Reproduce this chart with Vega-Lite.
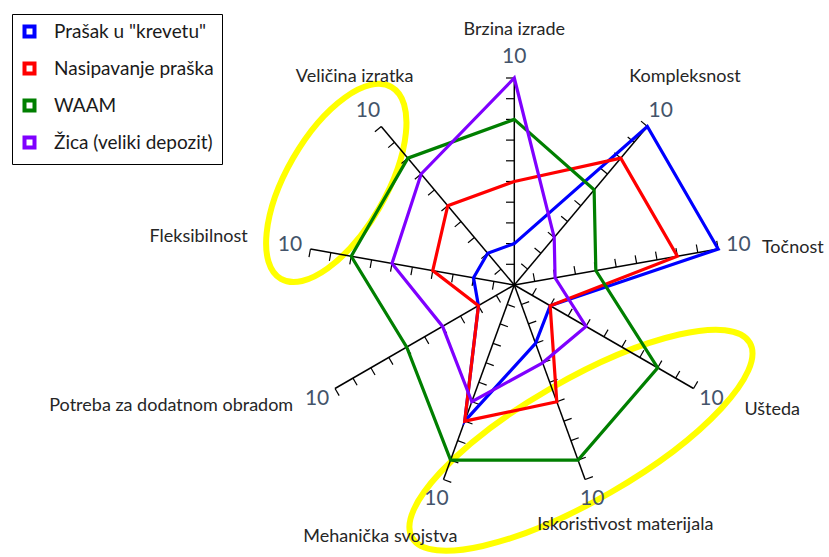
{
  "$schema": "https://vega.github.io/schema/vega-lite/v6.json",
  "width": 829,
  "height": 557,
  "autosize": {"type": "none"},
  "padding": 0,
  "background": "#ffffff",
  "config": {"view": {"stroke": null}, "font": "Lato"},
  "datasets": {
    "axes": [
      {"k": 0, "name": "Brzina izrade", "ticks": [1,2,3,4,5,6,7,8,9,10]},
      {"k": 1, "name": "Kompleksnost", "ticks": [1,2,3,4,5,6,7,8,9,10]},
      {"k": 2, "name": "Točnost", "ticks": [1,2,3,4,5,6,7,8,9,10]},
      {"k": 3, "name": "Ušteda", "ticks": [1,2,3,4,5,6,7,8,9,10]},
      {"k": 4, "name": "Iskoristivost materijala", "ticks": [1,2,3,4,5,6,7,8,9,10]},
      {"k": 5, "name": "Mehanička svojstva", "ticks": [1,2,3,4,5,6,7,8,9,10]},
      {"k": 6, "name": "Potreba za dodatnom obradom", "ticks": [1,2,3,4,5,6,7,8,9,10]},
      {"k": 7, "name": "Fleksibilnost", "ticks": [1,2,3,4,5,6,7,8,9,10]},
      {"k": 8, "name": "Veličina izratka", "ticks": [1,2,3,4,5,6,7,8,9,10]}
    ],
    "scores": [
      {"series": "Prašak u \"krevetu\"", "k": 0, "value": 2},
      {"series": "Prašak u \"krevetu\"", "k": 1, "value": 10},
      {"series": "Prašak u \"krevetu\"", "k": 2, "value": 10},
      {"series": "Prašak u \"krevetu\"", "k": 3, "value": 2},
      {"series": "Prašak u \"krevetu\"", "k": 4, "value": 3},
      {"series": "Prašak u \"krevetu\"", "k": 5, "value": 7},
      {"series": "Prašak u \"krevetu\"", "k": 6, "value": 2},
      {"series": "Prašak u \"krevetu\"", "k": 7, "value": 2},
      {"series": "Prašak u \"krevetu\"", "k": 8, "value": 2},
      {"series": "Nasipavanje praška", "k": 0, "value": 5},
      {"series": "Nasipavanje praška", "k": 1, "value": 8},
      {"series": "Nasipavanje praška", "k": 2, "value": 8},
      {"series": "Nasipavanje praška", "k": 3, "value": 2},
      {"series": "Nasipavanje praška", "k": 4, "value": 6},
      {"series": "Nasipavanje praška", "k": 5, "value": 7},
      {"series": "Nasipavanje praška", "k": 6, "value": 2},
      {"series": "Nasipavanje praška", "k": 7, "value": 4},
      {"series": "Nasipavanje praška", "k": 8, "value": 5},
      {"series": "WAAM", "k": 0, "value": 8},
      {"series": "WAAM", "k": 1, "value": 6},
      {"series": "WAAM", "k": 2, "value": 4},
      {"series": "WAAM", "k": 3, "value": 8},
      {"series": "WAAM", "k": 4, "value": 9},
      {"series": "WAAM", "k": 5, "value": 9},
      {"series": "WAAM", "k": 6, "value": 6},
      {"series": "WAAM", "k": 7, "value": 8},
      {"series": "WAAM", "k": 8, "value": 8},
      {"series": "Žica (veliki depozit)", "k": 0, "value": 10},
      {"series": "Žica (veliki depozit)", "k": 1, "value": 3},
      {"series": "Žica (veliki depozit)", "k": 2, "value": 2},
      {"series": "Žica (veliki depozit)", "k": 3, "value": 4},
      {"series": "Žica (veliki depozit)", "k": 4, "value": 4},
      {"series": "Žica (veliki depozit)", "k": 5, "value": 6},
      {"series": "Žica (veliki depozit)", "k": 6, "value": 4},
      {"series": "Žica (veliki depozit)", "k": 7, "value": 6},
      {"series": "Žica (veliki depozit)", "k": 8, "value": 7}
    ],
    "highlights": [
      {"region": "A", "cx": -8.6, "cy": 4.93},
      {"region": "B", "cx": 3.22, "cy": -7.5}
    ]
  },
  "layer": [
    {
      "data": {"name": "highlights"},
      "transform": [{"filter": "datum.region === 'A'"}],
      "mark": {"type": "point", "shape": "M 1 0 C 1 0.249 0.552 0.45 0 0.45 C -0.552 0.45 -1 0.249 -1 0 C -1 -0.249 -0.552 -0.45 0 -0.45 C 0.552 -0.45 1 -0.249 1 0 Z", "size": 49000, "angle": 300, "filled": false, "stroke": "#FFFF00", "strokeWidth": 6, "opacity": 1},
      "encoding": {
        "x": {"field": "cx", "type": "quantitative", "scale": {"domain": [-24.845, 15.203], "nice": false, "zero": false}, "axis": null},
        "y": {"field": "cy", "type": "quantitative", "scale": {"domain": [-13.14, 13.768], "nice": false, "zero": false}, "axis": null}
      }
    },
    {
      "data": {"name": "highlights"},
      "transform": [{"filter": "datum.region === 'B'"}],
      "mark": {"type": "point", "shape": "M 1 0 C 1 0.17 0.552 0.308 0 0.308 C -0.552 0.308 -1 0.17 -1 0 C -1 -0.17 -0.552 -0.308 0 -0.308 C 0.552 -0.308 1 -0.17 1 0 Z", "size": 152100, "angle": 330, "filled": false, "stroke": "#FFFF00", "strokeWidth": 6, "opacity": 1},
      "encoding": {
        "x": {"field": "cx", "type": "quantitative"},
        "y": {"field": "cy", "type": "quantitative"}
      }
    },
    {
      "data": {"name": "axes"},
      "transform": [
        {"calculate": "PI/2 - datum.k*2*PI/9", "as": "th"},
        {"calculate": "0", "as": "ox"},
        {"calculate": "10*cos(datum.th)", "as": "ex"},
        {"calculate": "10*sin(datum.th)", "as": "ey"}
      ],
      "mark": {"type": "rule", "color": "#000000", "strokeWidth": 1.5},
      "encoding": {
        "x": {"field": "ox", "type": "quantitative"},
        "y": {"field": "ox", "type": "quantitative"},
        "x2": {"field": "ex"},
        "y2": {"field": "ey"}
      }
    },
    {
      "data": {"name": "axes"},
      "transform": [
        {"flatten": ["ticks"]},
        {"calculate": "PI/2 - datum.k*2*PI/9", "as": "th"},
        {"calculate": "datum.ticks*cos(datum.th)", "as": "tx"},
        {"calculate": "datum.ticks*sin(datum.th)", "as": "ty"},
        {"calculate": "datum.tx - 0.4*sin(datum.th)", "as": "tx2"},
        {"calculate": "datum.ty + 0.4*cos(datum.th)", "as": "ty2"}
      ],
      "mark": {"type": "rule", "color": "#000000", "strokeWidth": 1.2},
      "encoding": {
        "x": {"field": "tx", "type": "quantitative"},
        "y": {"field": "ty", "type": "quantitative"},
        "x2": {"field": "tx2"},
        "y2": {"field": "ty2"}
      }
    },
    {
      "data": {"name": "scores"},
      "transform": [
        {"calculate": "PI/2 - datum.k*2*PI/9", "as": "th"},
        {"calculate": "datum.value*cos(datum.th)", "as": "px"},
        {"calculate": "datum.value*sin(datum.th)", "as": "py"}
      ],
      "mark": {"type": "line", "interpolate": "linear-closed", "strokeWidth": 3.2, "strokeJoin": "miter"},
      "encoding": {
        "x": {"field": "px", "type": "quantitative"},
        "y": {"field": "py", "type": "quantitative"},
        "order": {"field": "k", "type": "quantitative"},
        "color": {
          "field": "series",
          "type": "nominal",
          "scale": {
            "domain": ["Prašak u \"krevetu\"", "Nasipavanje praška", "WAAM", "Žica (veliki depozit)"],
            "range": ["#0000FF", "#FF0000", "#007F00", "#7F00FF"]
          },
          "legend": {
            "title": null,
            "orient": "none",
            "legendX": 12,
            "legendY": 14,
            "padding": 8,
            "rowPadding": 10,
            "strokeColor": "#000000",
            "fillColor": "#ffffff",
            "symbolType": "square",
            "symbolSize": 100,
            "symbolStrokeWidth": 4,
            "symbolFillColor": "#ffffff",
            "labelFont": "Lato",
            "labelFontSize": 19,
            "labelColor": "#1a1a1a",
            "labelOffset": 15,
            "labelLimit": 400
          }
        }
      }
    },
    {
      "data": {"name": "axes"},
      "transform": [
        {"calculate": "PI/2 - datum.k*2*PI/9", "as": "th"},
        {"calculate": "11*cos(datum.th)", "as": "lx"},
        {"calculate": "11*sin(datum.th)", "as": "ly"}
      ],
      "mark": {"type": "text", "text": "10", "fontSize": 21, "color": "#44546A", "align": "center", "baseline": "middle"},
      "encoding": {
        "x": {"field": "lx", "type": "quantitative"},
        "y": {"field": "ly", "type": "quantitative"}
      }
    },
    {
      "data": {"name": "axes"},
      "transform": [{"filter": "datum.k === 0"}, {"calculate": "PI/2 - datum.k*2*PI/9", "as": "th"}, {"calculate": "12*cos(datum.th)", "as": "lx"}, {"calculate": "12*sin(datum.th)", "as": "ly"}],
      "mark": {"type": "text", "fontSize": 18, "color": "#262626", "align": "center", "baseline": "middle", "dx": 0, "dy": -7},
      "encoding": {"x": {"field": "lx", "type": "quantitative"}, "y": {"field": "ly", "type": "quantitative"}, "text": {"field": "name"}}
    },
    {
      "data": {"name": "axes"},
      "transform": [{"filter": "datum.k === 1"}, {"calculate": "PI/2 - datum.k*2*PI/9", "as": "th"}, {"calculate": "12*cos(datum.th)", "as": "lx"}, {"calculate": "12*sin(datum.th)", "as": "ly"}],
      "mark": {"type": "text", "fontSize": 18, "color": "#262626", "align": "center", "baseline": "middle", "dx": 11, "dy": -18},
      "encoding": {"x": {"field": "lx", "type": "quantitative"}, "y": {"field": "ly", "type": "quantitative"}, "text": {"field": "name"}}
    },
    {
      "data": {"name": "axes"},
      "transform": [{"filter": "datum.k === 2"}, {"calculate": "PI/2 - datum.k*2*PI/9", "as": "th"}, {"calculate": "12*cos(datum.th)", "as": "lx"}, {"calculate": "12*sin(datum.th)", "as": "ly"}],
      "mark": {"type": "text", "fontSize": 18, "color": "#262626", "align": "left", "baseline": "middle", "dx": 3, "dy": 6},
      "encoding": {"x": {"field": "lx", "type": "quantitative"}, "y": {"field": "ly", "type": "quantitative"}, "text": {"field": "name"}}
    },
    {
      "data": {"name": "axes"},
      "transform": [{"filter": "datum.k === 3"}, {"calculate": "PI/2 - datum.k*2*PI/9", "as": "th"}, {"calculate": "12*cos(datum.th)", "as": "lx"}, {"calculate": "12*sin(datum.th)", "as": "ly"}],
      "mark": {"type": "text", "fontSize": 18, "color": "#262626", "align": "left", "baseline": "middle", "dx": 15, "dy": 1},
      "encoding": {"x": {"field": "lx", "type": "quantitative"}, "y": {"field": "ly", "type": "quantitative"}, "text": {"field": "name"}}
    },
    {
      "data": {"name": "axes"},
      "transform": [{"filter": "datum.k === 4"}, {"calculate": "PI/2 - datum.k*2*PI/9", "as": "th"}, {"calculate": "12*cos(datum.th)", "as": "lx"}, {"calculate": "12*sin(datum.th)", "as": "ly"}],
      "mark": {"type": "text", "fontSize": 18, "color": "#262626", "align": "center", "baseline": "middle", "dx": 26, "dy": 7},
      "encoding": {"x": {"field": "lx", "type": "quantitative"}, "y": {"field": "ly", "type": "quantitative"}, "text": {"field": "name"}}
    },
    {
      "data": {"name": "axes"},
      "transform": [{"filter": "datum.k === 5"}, {"calculate": "PI/2 - datum.k*2*PI/9", "as": "th"}, {"calculate": "12*cos(datum.th)", "as": "lx"}, {"calculate": "12*sin(datum.th)", "as": "ly"}],
      "mark": {"type": "text", "fontSize": 18, "color": "#262626", "align": "center", "baseline": "middle", "dx": -49, "dy": 19},
      "encoding": {"x": {"field": "lx", "type": "quantitative"}, "y": {"field": "ly", "type": "quantitative"}, "text": {"field": "name"}}
    },
    {
      "data": {"name": "axes"},
      "transform": [{"filter": "datum.k === 6"}, {"calculate": "PI/2 - datum.k*2*PI/9", "as": "th"}, {"calculate": "12*cos(datum.th)", "as": "lx"}, {"calculate": "12*sin(datum.th)", "as": "ly"}],
      "mark": {"type": "text", "fontSize": 18, "color": "#262626", "align": "right", "baseline": "middle", "dx": -6, "dy": -3},
      "encoding": {"x": {"field": "lx", "type": "quantitative"}, "y": {"field": "ly", "type": "quantitative"}, "text": {"field": "name"}}
    },
    {
      "data": {"name": "axes"},
      "transform": [{"filter": "datum.k === 7"}, {"calculate": "PI/2 - datum.k*2*PI/9", "as": "th"}, {"calculate": "12*cos(datum.th)", "as": "lx"}, {"calculate": "12*sin(datum.th)", "as": "ly"}],
      "mark": {"type": "text", "fontSize": 18, "color": "#262626", "align": "right", "baseline": "middle", "dx": -22, "dy": -5},
      "encoding": {"x": {"field": "lx", "type": "quantitative"}, "y": {"field": "ly", "type": "quantitative"}, "text": {"field": "name"}}
    },
    {
      "data": {"name": "axes"},
      "transform": [{"filter": "datum.k === 8"}, {"calculate": "PI/2 - datum.k*2*PI/9", "as": "th"}, {"calculate": "12*cos(datum.th)", "as": "lx"}, {"calculate": "12*sin(datum.th)", "as": "ly"}],
      "mark": {"type": "text", "fontSize": 18, "color": "#262626", "align": "center", "baseline": "middle", "dx": 0, "dy": -18},
      "encoding": {"x": {"field": "lx", "type": "quantitative"}, "y": {"field": "ly", "type": "quantitative"}, "text": {"field": "name"}}
    }
  ]
}
